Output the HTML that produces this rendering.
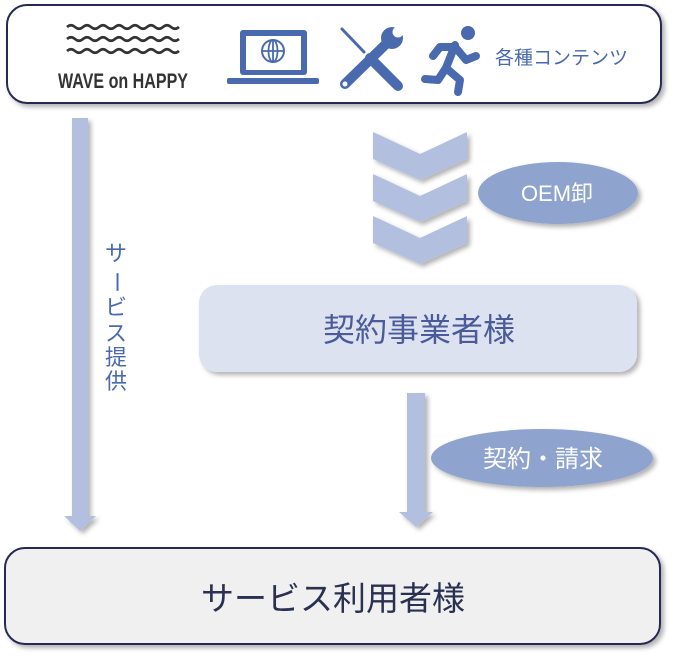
<!DOCTYPE html>
<html><head><meta charset="utf-8"><style>
body{margin:0;background:#fff;width:675px;height:659px;overflow:hidden;font-family:"Liberation Sans","Noto Sans CJK JP",sans-serif}
</style></head><body>
<svg width="675" height="659" xmlns="http://www.w3.org/2000/svg" font-family="'Liberation Sans','Noto Sans CJK JP',sans-serif">
<defs>
<filter id="sh" x="-20%" y="-20%" width="140%" height="150%"><feDropShadow dx="3" dy="3" stdDeviation="2.5" flood-color="#000" flood-opacity="0.3"/></filter>
</defs>
<rect x="7" y="5" width="654" height="98" rx="20" fill="#fff" stroke="#262c52" stroke-width="2" filter="url(#sh)"/>
<g fill="none" stroke="#333" stroke-width="2.6">
<path d="M67 27 q4 -3.5 8 0 t8 0 t8 0 t8 0 t8 0 t8 0 t8 0 t8 0 t8 0 t8 0 t8 0 t8 0 t8 0 t8 0"/>
<path d="M67 39 q4 -3.5 8 0 t8 0 t8 0 t8 0 t8 0 t8 0 t8 0 t8 0 t8 0 t8 0 t8 0 t8 0 t8 0 t8 0"/>
<path d="M67 51 q4 -3.5 8 0 t8 0 t8 0 t8 0 t8 0 t8 0 t8 0 t8 0 t8 0 t8 0 t8 0 t8 0 t8 0 t8 0"/>
</g>
<text x="58" y="88" font-size="21" font-weight="bold" fill="#333" textLength="130" lengthAdjust="spacingAndGlyphs">WAVE on HAPPY</text>
<g fill="#4a6aaf">
<rect x="240" y="30" width="67" height="45" rx="3"/>
<rect x="246" y="36" width="55" height="34" fill="#fff"/>
<rect x="227" y="78" width="92" height="6" rx="2"/>
<circle cx="273" cy="51" r="11" fill="none" stroke="#4a6aaf" stroke-width="2"/>
<ellipse cx="273" cy="51" rx="4.5" ry="11" fill="none" stroke="#4a6aaf" stroke-width="1.8"/>
<line x1="262" y1="51" x2="284" y2="51" stroke="#4a6aaf" stroke-width="1.8"/>
<line x1="273" y1="40" x2="273" y2="62" stroke="#4a6aaf" stroke-width="1.8"/>
</g>
<g stroke="#4a6aaf" stroke-linecap="round">
<line x1="342" y1="29" x2="364" y2="52" stroke-width="3"/>
<line x1="370" y1="58" x2="398" y2="86" stroke-width="10"/>
<line x1="345" y1="84" x2="388" y2="42" stroke-width="10"/>
</g>
<circle cx="392" cy="38" r="11" fill="#4a6aaf"/>
<circle cx="398" cy="32" r="5.5" fill="#fff"/>
<circle cx="345" cy="84" r="2.5" fill="#fff"/>
<g fill="none" stroke="#4a6aaf" stroke-width="8" stroke-linecap="round" stroke-linejoin="round">
<path d="M455 45 L446 68"/>
<path d="M446 68 L460 80 L458 92"/>
<path d="M446 68 L438 80 L425 79"/>
<path d="M453 47 L440 47 L433 56"/>
<path d="M456 48 L466 60 L476 56"/>
</g>
<circle cx="468" cy="33" r="7" fill="#4a6aaf"/>
<text x="495" y="64" font-size="19" fill="#4a6aaf">各種コンテンツ</text>
<g fill="#b3bfdf" filter="url(#sh)">
<path d="M373 132 L420 154 L467 132 L467 159 L420 180 L373 159Z"/>
<path d="M373 174 L420 196 L467 174 L467 201 L420 222 L373 201Z"/>
<path d="M373 216 L420 238 L467 216 L467 243 L420 264 L373 243Z"/>
</g>
<ellipse cx="558" cy="193" rx="80" ry="31" fill="#8fa3cf" filter="url(#sh)"/>
<text x="557" y="201" text-anchor="middle" font-size="22" fill="#fff">OEM卸</text>
<g fill="#b3bfdf" filter="url(#sh)">
<path d="M72 118 L88 118 L88 516 L96 516 L80 531 L64 516 L72 516Z"/>
<path d="M407 393 L425 393 L425 512 L433 512 L416 527 L399 512 L407 512Z"/>
</g>
<g font-size="22" fill="#4a6aaf" text-anchor="middle">
<text x="116" y="261">サ</text>
<text x="116" y="289" transform="rotate(90 116 282)">ー</text>
<text x="116" y="315">ビ</text>
<text x="116" y="341">ス</text>
<text x="116" y="365">提</text>
<text x="116" y="389">供</text>
</g>
<rect x="199" y="285" width="438" height="87" rx="18" fill="#dde2f0" filter="url(#sh)"/>
<text x="419" y="341" text-anchor="middle" font-size="32" fill="#4a5a9a">契約事業者様</text>
<ellipse cx="542" cy="458" rx="111" ry="29" fill="#8fa3cf" filter="url(#sh)"/>
<text x="543" y="467" text-anchor="middle" font-size="24" fill="#fff">契約・請求</text>
<rect x="5" y="548" width="655" height="96" rx="20" fill="#f0f0f0" stroke="#262c52" stroke-width="2" filter="url(#sh)"/>
<text x="333" y="610" text-anchor="middle" font-size="33" fill="#2a3050">サービス利用者様</text>
</svg>
</body></html>
